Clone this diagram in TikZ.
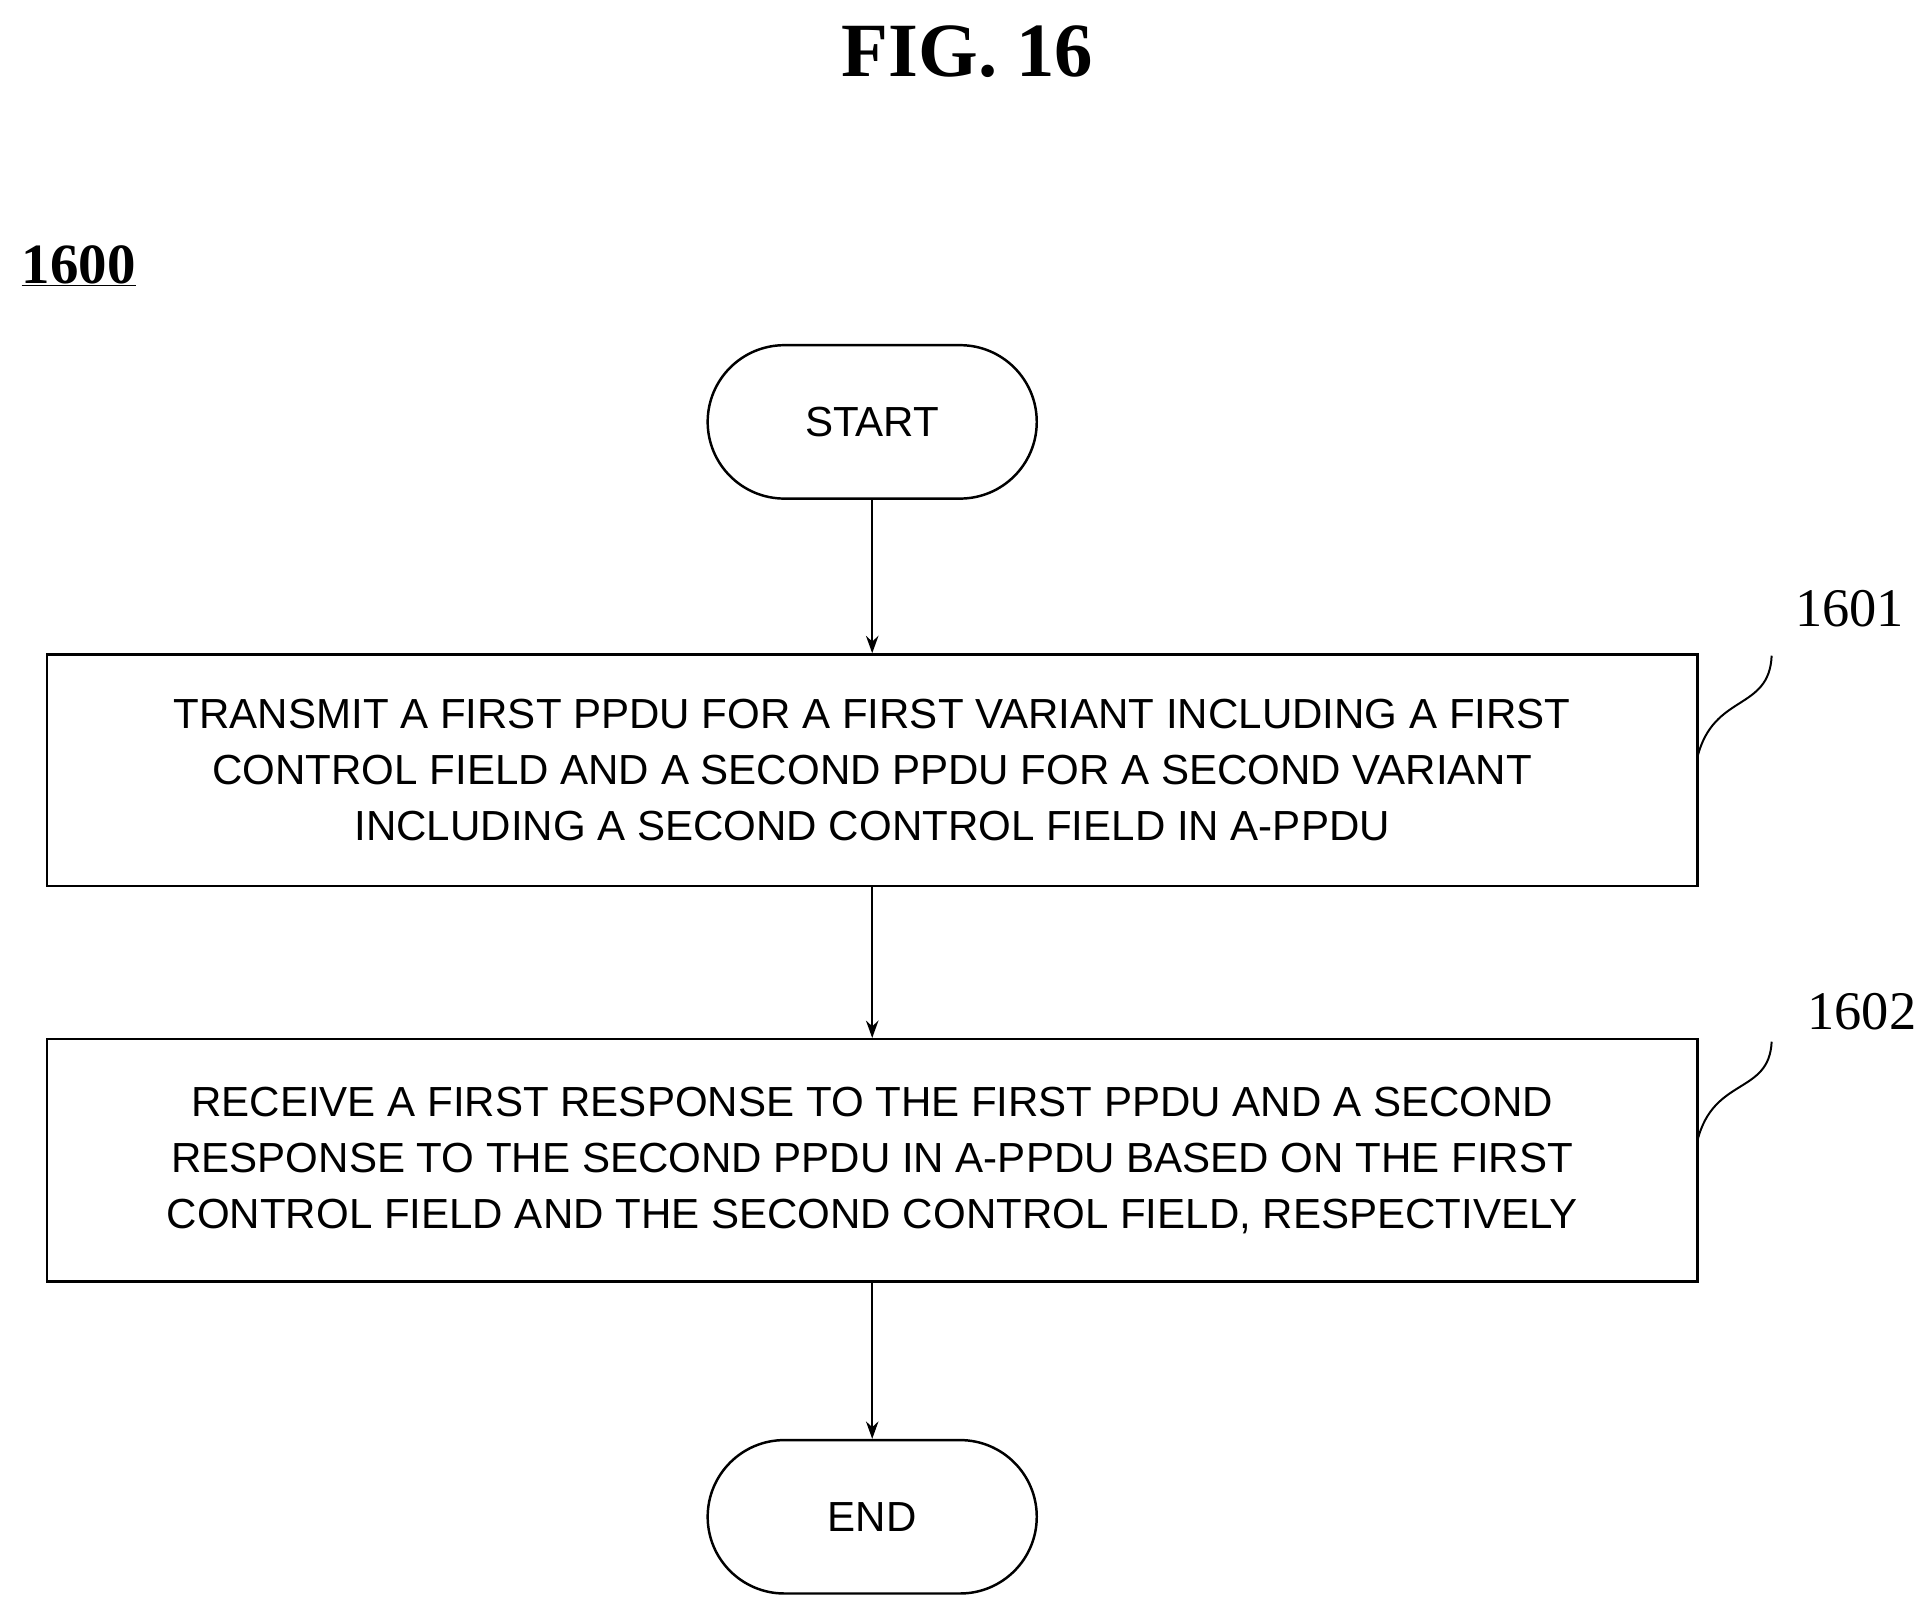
\documentclass[tikz,border=0pt]{standalone}
\usetikzlibrary{arrows.meta}
\usepackage{fontspec}
\setsansfont{Liberation Sans}
\setmainfont{Liberation Serif}
\begin{document}
\begin{tikzpicture}[x=1pt,y=-1pt,
  box/.style={draw,line width=2pt,minimum width=1334pt,align=center,font=\sffamily\fontsize{34}{45.5}\selectfont},
  term/.style={draw,line width=2pt,rounded corners=62pt,minimum width=266pt,minimum height=124pt,font=\sffamily\fontsize{34}{40}\selectfont},
  arr/.style={line width=2pt,-{Stealth[length=14pt,width=10pt]}},
  lbl/.style={font=\rmfamily\fontsize{44}{50}\selectfont}]
\useasboundingbox (0,0) rectangle (1560,1300);
\node[font=\rmfamily\bfseries\fontsize{62}{70}\selectfont] (title) at (782,42) {FIG. 16};
\node[font=\rmfamily\bfseries\fontsize{46}{50}\selectfont,anchor=west] (num) at (14,215) {\underline{1600}};
\node[term] (start) at (705,341) {START};
\node[box,minimum height=187pt] (b1) at (705,622.5) {TRANSMIT A FIRST PPDU FOR A FIRST VARIANT INCLUDING A FIRST\\CONTROL FIELD AND A SECOND PPDU FOR A SECOND VARIANT\\INCLUDING A SECOND CONTROL FIELD IN A-PPDU};
\node[box,minimum height=196pt] (b2) at (705,938) {RECEIVE A FIRST RESPONSE TO THE FIRST PPDU AND A SECOND\\RESPONSE TO THE SECOND PPDU IN A-PPDU BASED ON THE FIRST\\CONTROL FIELD AND THE SECOND CONTROL FIELD, RESPECTIVELY};
\node[term] (end) at (705,1226) {END};
\draw[arr] (start) -- (b1);
\draw[arr] (b1) -- (b2);
\draw[arr] (b2) -- (end);
\node[lbl] (l1) at (1495,492) {1601};
\node[lbl] (l2) at (1505,818) {1602};
\coordinate (c1) at (1372,612);
\coordinate (c2) at (1372,922);
\draw[line width=1.6pt] (c1) .. controls (1385,560) and (1430,575) .. (1432,530);
\draw[line width=1.6pt] (c2) .. controls (1385,870) and (1430,885) .. (1432,842);
\end{tikzpicture}
\end{document}
